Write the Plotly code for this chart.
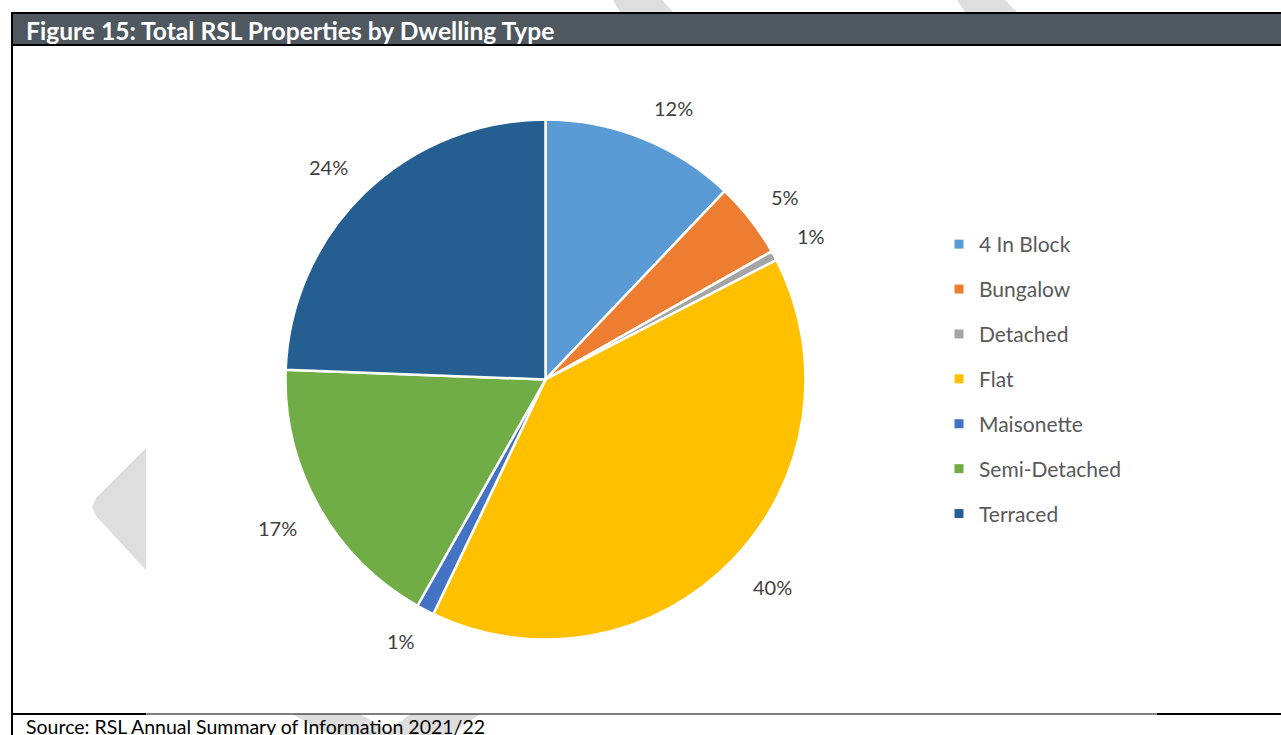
import math
import plotly.graph_objects as go

# Dwelling types and their share of RSL properties (%)
categories = ["4 In Block", "Bungalow", "Detached", "Flat", "Maisonette", "Semi-Detached", "Terraced"]
shares = [12.1, 4.7, 0.6, 39.7, 1.1, 17.4, 24.4]
colors = ["#5B9BD5", "#ED7D31", "#A5A5A5", "#FFC000", "#4472C4", "#70AD47", "#255E91"]

title_text = "Figure 15: Total RSL Properties by Dwelling Type"
source_text = "Source: RSL Annual Summary of Information 2021/22"

W, H = 1281, 735
CX, CY, R = 545.5, 379.5, 260.0   # pie centre and radius in pixels
LABEL_R = 284.0
FONT = "Lato, 'Open Sans', sans-serif"


def px(x):
    return x / W


def py(y):
    return 1 - y / H


fig = go.Figure()

fig.add_trace(go.Pie(
    labels=categories,
    values=shares,
    sort=False,
    direction="clockwise",
    rotation=0,
    marker=dict(colors=colors, line=dict(color="white", width=2.5)),
    textinfo="none",
    hoverinfo="label+percent",
    showlegend=False,
    domain=dict(x=[px(CX - R), px(CX + R)], y=[py(CY + R), py(CY - R)]),
))

# Legend entries, one group each so the vertical spacing can be opened up
for i, (name, col) in enumerate(zip(categories, colors)):
    fig.add_trace(go.Scatter(
        x=[None], y=[None], mode="markers", name=name,
        marker=dict(symbol="square", size=9, color=col),
        legendgroup=f"g{i}", showlegend=True,
    ))

# Percentage labels just outside each slice, pushed away from the rim
annotations = []
total = sum(shares)
cum = 0.0
for v in shares:
    mid = (cum + v / 2) / total * 2 * math.pi
    cum += v
    s, c = math.sin(mid), math.cos(mid)
    text = f"{round(v / total * 100)}%"
    half_w = 7 * len(text) - 1
    ax = CX + LABEL_R * s + (half_w + 3 if s >= 0 else -half_w)
    ay = CY - LABEL_R * c + (-8 if c >= 0 else 10)
    annotations.append(dict(
        x=px(ax), y=py(ay), xref="paper", yref="paper",
        text=text, showarrow=False, xanchor="center", yanchor="middle",
        font=dict(family=FONT, size=20, color="#404040"),
    ))

annotations.append(dict(
    x=px(24), y=py(30), xref="paper", yref="paper", text=f"<b>{title_text}</b>",
    showarrow=False, xanchor="left", yanchor="middle",
    font=dict(family=FONT, size=24.6, color="white"),
))
annotations.append(dict(
    x=px(24), y=py(726), xref="paper", yref="paper", text=source_text,
    showarrow=False, xanchor="left", yanchor="middle",
    font=dict(family=FONT, size=19.5, color="black"),
))

WM = "#DEDEDE"


def path(points):
    return "M " + " L ".join(f"{px(x)},{py(y)}" for x, y in points) + " Z"


shapes = [
    # faint watermark shapes behind the frame
    dict(type="path", path=path([(613, 0), (662, 0), (673, 12), (620, 12)]),
         xref="paper", yref="paper", fillcolor=WM, line=dict(width=0), layer="below"),
    dict(type="path", path=path([(957, 0), (1005, 0), (1017, 12), (965, 12)]),
         xref="paper", yref="paper", fillcolor=WM, line=dict(width=0), layer="below"),
    dict(type="path", path=path([(146, 448), (96, 498), (92, 507), (96, 516), (146, 570)]),
         xref="paper", yref="paper", fillcolor=WM, line=dict(width=0), layer="below"),
    dict(type="path", path=path([(292, 714), (360, 714), (395, 735), (330, 735)]),
         xref="paper", yref="paper", fillcolor=WM, line=dict(width=0), layer="below"),
    dict(type="path", path=path([(410, 714), (480, 714), (450, 735), (385, 735)]),
         xref="paper", yref="paper", fillcolor=WM, line=dict(width=0), layer="below"),
    # header bar
    dict(type="rect", x0=px(11), x1=px(W + 5), y0=py(46), y1=py(12),
         xref="paper", yref="paper", fillcolor="black", line=dict(width=0), layer="below"),
    dict(type="rect", x0=px(13), x1=px(W + 5), y0=py(44), y1=py(14),
         xref="paper", yref="paper", fillcolor="#4F575F", line=dict(width=0), layer="below"),
    # frame
    dict(type="line", x0=px(12), x1=px(12), y0=py(12), y1=py(H + 2),
         xref="paper", yref="paper", line=dict(color="black", width=2), layer="below"),
    dict(type="line", x0=px(11), x1=px(146), y0=py(714), y1=py(714),
         xref="paper", yref="paper", line=dict(color="black", width=2), layer="below"),
    dict(type="line", x0=px(146), x1=px(1157), y0=py(714), y1=py(714),
         xref="paper", yref="paper", line=dict(color="black", width=1), layer="below"),
    dict(type="line", x0=px(1157), x1=px(W + 5), y0=py(714), y1=py(714),
         xref="paper", yref="paper", line=dict(color="black", width=2), layer="below"),
]

fig.update_layout(
    width=W, height=H,
    margin=dict(l=0, r=0, t=0, b=0),
    paper_bgcolor="white", plot_bgcolor="rgba(0,0,0,0)",
    xaxis=dict(visible=False), yaxis=dict(visible=False),
    showlegend=True,
    legend=dict(
        x=px(939), y=py(224), xanchor="left", yanchor="top",
        font=dict(family=FONT, size=21, color="#595959"),
        tracegroupgap=14.6, itemsizing="trace", bgcolor="rgba(0,0,0,0)",
    ),
    annotations=annotations,
    shapes=shapes,
)

fig.write_html("out.html")
